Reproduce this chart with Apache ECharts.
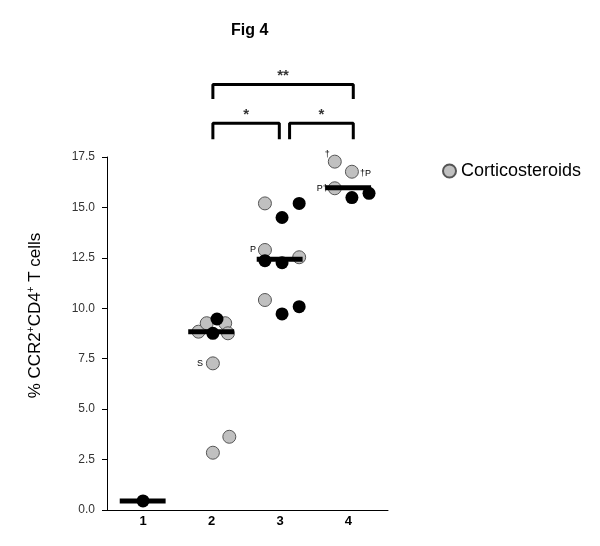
<!DOCTYPE html>
<html><head><meta charset="utf-8">
<script src="https://cdn.jsdelivr.net/npm/echarts@6/dist/echarts.min.js"></script>
<style>html,body{margin:0;padding:0;background:#fff}#c{width:600px;height:546px}</style>
</head><body><div id="c"></div>
<script>
// Categories (groups) on the x axis
const groupLabels = [1, 2, 3, 4];
// Corticosteroid-treated patients (gray): x = group position incl. jitter, y = % CCR2+CD4+ T cells
const grayX = [1.81, 1.93, 2.20, 2.24, 2.02, 2.26, 2.02, 2.78, 2.78, 3.28, 2.78, 3.80, 4.05, 3.80];
const grayY = [8.84, 9.26, 9.26, 8.76, 7.27, 3.63, 2.84, 15.20, 12.89, 12.53, 10.41, 17.27, 16.77, 15.95];
const grayNotes = ['', '', '', '', 'S', '', '', '', 'P', '', '', '†', '†P', 'P†'];
// Untreated patients (black)
const blackX = [1.00, 2.08, 2.02, 3.28, 3.03, 2.78, 3.03, 3.03, 3.28, 4.05, 4.30];
const blackY = [0.45, 9.47, 8.76, 15.20, 14.50, 12.36, 12.26, 9.72, 10.08, 15.49, 15.70];
// Group medians
const medianGroups = [1, 2, 3, 4];
const medianValues = [0.45, 8.84, 12.43, 15.98];
// Significance brackets: [from group, to group, stars, level]
const brackets = [[2, 4, '**', 0], [2, 3, '*', 1], [3, 4, '*', 1]];

const chart = echarts.init(document.getElementById('c'));
const noteStyle = {
  '†': {position: 'left', distance: 0, offset: [2, -7]},
  '†P': {position: 'right', distance: 1, offset: [0, 2]},
  'P†': {position: 'left', distance: 0},
  'S': {position: 'left', distance: 3},
  'P': {position: 'left', distance: 2}
};
const grayData = grayX.map((x, i) => {
  const n = grayNotes[i];
  const item = {value: [x, grayY[i]]};
  if (n) item.label = Object.assign({show: true, formatter: n, fontSize: 9, color: '#000', fontFamily: 'Liberation Sans'}, noteStyle[n]);
  return item;
});
const blackData = blackX.map((x, i) => [x, blackY[i]]);

const series = [
  {name: 'Corticosteroids', type: 'scatter', data: grayData, symbolSize: 13, z: 3,
   itemStyle: {color: '#c0c0c0', borderColor: '#555', borderWidth: 1, opacity: 1}},
  {name: 'Untreated', type: 'scatter', data: blackData, symbolSize: 13, z: 4,
   itemStyle: {color: '#000', opacity: 1}}
];
medianGroups.forEach((g, i) => {
  series.push({type: 'line', data: [[g - 0.34, medianValues[i]], [g + 0.33, medianValues[i]]],
    symbol: 'none', lineStyle: {color: '#000', width: 5}, z: 5, silent: true});
});
const levels = [{top: 21.1, leg: 20.37, star: 21.5}, {top: 19.17, leg: 18.38, star: 19.6}];
brackets.forEach(([a, b, s, l]) => {
  const L = levels[l];
  const x1 = a + (l === 1 && a === 3 ? 0.14 : 0.02);
  const x2 = b + (l === 1 && b === 3 ? -0.01 : 0.07);
  series.push({type: 'line', clip: false, silent: true, symbol: 'none', z: 6,
    data: [[x1, L.leg], [x1, L.top], [x2, L.top], [x2, L.leg]],
    lineStyle: {color: '#000', width: 3}});
  series.push({type: 'scatter', clip: false, silent: true, symbolSize: 1, z: 6,
    itemStyle: {color: 'rgba(0,0,0,0)'},
    data: [[(x1 + x2) / 2, L.star]],
    label: {show: true, position: 'inside', formatter: s, fontSize: 15, fontWeight: 'bold', color: '#000', fontFamily: 'Liberation Sans'}});
});

chart.setOption({
  animation: false,
  textStyle: {fontFamily: 'Liberation Sans'},
  title: {text: 'Fig 4', left: 226, top: 18,
    textStyle: {fontSize: 16, fontWeight: 'bold', color: '#000', fontFamily: 'Liberation Sans'}},
  legend: {data: [{name: 'Corticosteroids', icon: 'circle'}], left: 437, top: 157, itemWidth: 13, itemHeight: 13,
    itemGap: 7, textStyle: {fontSize: 18, color: '#000', fontFamily: 'Liberation Sans'}},
  grid: {left: 107, right: 212, top: 157, bottom: 36, containLabel: false},
  xAxis: {type: 'value', min: 0.474, max: 4.577,
    axisLine: {lineStyle: {color: '#000', width: 1}},
    axisTick: {show: false}, splitLine: {show: false},
    axisLabel: {customValues: groupLabels, formatter: v => String(v), fontSize: 13, fontWeight: 'bold', color: '#000', margin: 5}},
  yAxis: {type: 'value', min: 0, max: 17.5, interval: 2.5,
    axisLine: {show: true, lineStyle: {color: '#000', width: 1}},
    axisTick: {show: true, length: 5, lineStyle: {color: '#000'}},
    splitLine: {show: false},
    axisLabel: {formatter: v => v.toFixed(1), fontSize: 12, color: '#333', margin: 12},
    name: '% CCR2{s|+}CD4{s|+} T cells', nameLocation: 'middle', nameGap: 62, nameRotate: 90,
    nameTextStyle: {fontSize: 17, color: '#000', fontFamily: 'Liberation Sans', padding: [0, 0, 0, 36],
      rich: {s: {fontSize: 10, verticalAlign: 'top', color: '#000', padding: [0, 0, 9, 0]}}}},
  series: series
});
</script></body></html>
